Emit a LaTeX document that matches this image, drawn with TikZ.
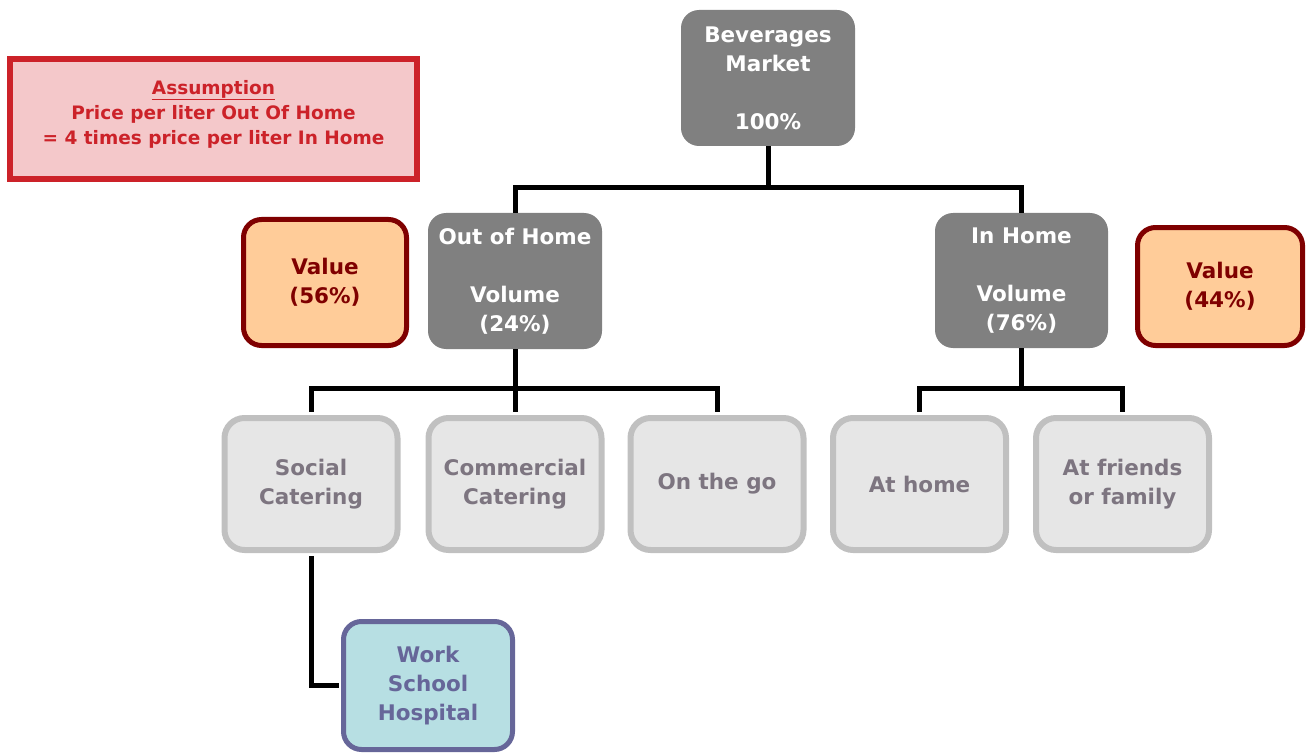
\documentclass[tikz,border=0pt]{standalone}
\usepackage{fontspec}
\setmainfont{DejaVu Sans}
\usetikzlibrary{positioning}

\definecolor{midgray}{HTML}{808080}
\definecolor{lightfill}{HTML}{E6E6E6}
\definecolor{lightline}{HTML}{C0C0C0}
\definecolor{lighttext}{HTML}{7D7580}
\definecolor{assumred}{HTML}{CC2229}
\definecolor{assumfill}{HTML}{F4C8CA}
\definecolor{valfill}{HTML}{FFCC99}
\definecolor{valline}{HTML}{7F0000}
\definecolor{workfill}{HTML}{B7DFE3}
\definecolor{workline}{HTML}{666699}

\begin{document}
\begin{tikzpicture}[x=1pt,y=-1pt,
		txt/.style={align=center,inner sep=0pt,font=\bfseries\fontsize{21.5}{29}\selectfont},
		grayboxx/.style={txt,fill=midgray,text=white,rounded corners=18pt,minimum width=174pt,minimum height=136pt},
		lightbox/.style={txt,draw=lightline,line width=6pt,fill=lightfill,text=lighttext,rounded corners=20pt,minimum width=173pt,minimum height=132pt},
		valbox/.style={txt,draw=valline,line width=5pt,fill=valfill,text=valline,rounded corners=18pt},
		conn/.style={line width=5pt,black}]
			\useasboundingbox (0,0) rectangle (1306,754);
			% assumption note
			\node[draw=assumred,line width=6pt,fill=assumfill,text=assumred,align=center,
				minimum width=407pt,minimum height=120pt,
				font=\bfseries\fontsize{18.5}{25}\selectfont] (assum) at (213.5,119)
				{\underline{Assumption}\\Price per liter Out Of Home\\= 4 times price per liter In Home\rule[-14pt]{0pt}{14pt}};
			% top level
			\node[grayboxx] (bev) at (768,78) {Beverages\\Market\\~\\100\%};
			\node[grayboxx] (ooh) at (515,281) {Out of Home\\~\\Volume\\(24\%)};
			\node[grayboxx,minimum width=173pt,minimum height=135pt] (inh) at (1021.5,280.5) {In Home\\~\\Volume\\(76\%)};
			% value shares
			\node[valbox,minimum width=163pt,minimum height=126pt] (val56) at (325,282.5) {Value\\(56\%)};
			\node[valbox,minimum width=165pt,minimum height=118pt] (val44) at (1220,286.5) {Value\\(44\%)};
			% channels
			\foreach \n/\x/\t in {soc/311/{Social\\Catering},com/515/{Commercial\\Catering},
				go/717/{On the go},home/919.5/{At home},friends/1122.5/{At friends\\or family}} {
				\node[lightbox] (\n) at (\x,484) {\t};
			}
			% sub channel
			\node[txt,draw=workline,line width=5pt,fill=workfill,text=workline,rounded corners=18pt,
				minimum width=169pt,minimum height=128pt] (work) at (428,685.5) {Work\\School\\Hospital};
			% tree lines
			\draw[conn] (bev.south) -- ++(0,41) -| (ooh.north);
			\draw[conn] (bev.south) -- ++(0,41) -| (inh.north);
			\foreach \n in {soc,com,go} {
				\draw[conn] (ooh.south) -- ++(0,39) -| ([yshift=3pt]\n.north);
			}
			\foreach \n in {home,friends} {
				\draw[conn] (inh.south) -- ++(0,40) -| ([yshift=3pt]\n.north);
			}
			\draw[conn] ([yshift=-3pt]soc.south) |- ([xshift=-2.5pt]work.west);
		\end{tikzpicture}
\end{document}
